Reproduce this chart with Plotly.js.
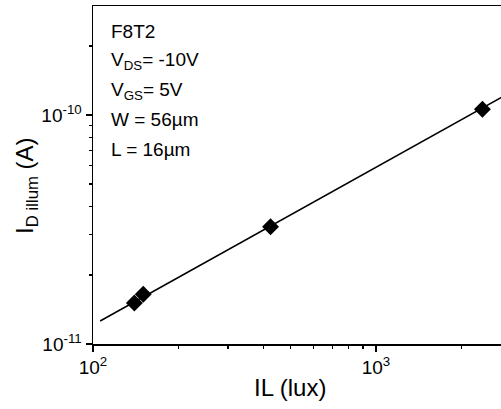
<!DOCTYPE html>
<html>
<head>
<meta charset="utf-8">
<script src="https://cdn.plot.ly/plotly-3.0.1.min.js"></script>
<style>html,body{margin:0;padding:0;background:#fff;}#chart{width:501px;height:409px;}</style>
</head>
<body>
<div id="chart"></div>
<script>
// Measured data: illumination (lux) vs illuminated drain current (A)
const illum = [140, 150.5, 424, 2377];
const current = [1.51e-11, 1.65e-11, 3.25e-11, 1.06e-10];
// Fit line endpoints
const fitX = [106, 2800];
const fitY = [1.26e-11, 1.20e-10];
// Tick labels
const xTickVals = [100, 1000];
const xTickText = ['10<sup>2</sup>', '10<sup>3</sup>'];
const xMinor = [200, 300, 400, 500, 600, 700, 800, 900, 2000];
const yTickVals = [1e-11, 1e-10];
const yTickText = ['10<sup>-11</sup>', '10<sup>-10</sup>'];
const yMinor = [2e-11, 3e-11, 4e-11, 5e-11, 6e-11, 7e-11, 8e-11, 9e-11, 2e-10, 3e-10];
const infoLines = ['F8T2', 'V<sub>DS</sub>= -10V', 'V<sub>GS</sub>= 5V', 'W = 56µm', 'L = 16µm'];
const xTitle = 'IL (lux)';
const yTitle = 'I<sub>D illum</sub> (A)';

const font = 'Liberation Sans, Arial, Helvetica, sans-serif';

const traces = [
  {x: fitX, y: fitY, mode: 'lines', line: {color: '#000', width: 1.5}, hoverinfo: 'skip'},
  {x: illum, y: current, mode: 'markers', marker: {symbol: 'diamond', size: 13, color: '#000'}}
];

const plotLeft = 93, plotW = 408;
const plotTop = 6, plotBottom = 344;
const py = v => (plotBottom - v) / (plotBottom - plotTop);
const px = v => (v - plotLeft) / plotW;
const annY = [31.5, 61, 91, 120, 149];
const annotations = infoLines.map((t, i) => ({
  text: t, xref: 'paper', yref: 'paper',
  x: px(109), y: py(annY[i]),
  xanchor: 'left', yanchor: 'middle', showarrow: false,
  font: {family: font, size: 19, color: '#000'}
}));
annotations.push({
  text: yTitle, xref: 'paper', yref: 'paper',
  x: px(26), y: py(186), textangle: -90,
  xanchor: 'center', yanchor: 'middle', showarrow: false,
  font: {family: font, size: 24, color: '#000'}
});
annotations.push({
  text: xTitle, xref: 'paper', yref: 'paper',
  x: px(290), y: py(387),
  xanchor: 'center', yanchor: 'middle', showarrow: false,
  font: {family: font, size: 24, color: '#000'}
});

const layout = {
  width: 501, height: 409,
  margin: {l: 93, r: 0, t: 6, b: 65},
  paper_bgcolor: '#fff', plot_bgcolor: '#fff',
  showlegend: false,
  font: {family: font, color: '#000'},
  xaxis: {
    type: 'log', range: [2, 3.4417],
    tickmode: 'array', tickvals: xTickVals, ticktext: xTickText,
    ticks: 'outside', ticklen: 6, tickwidth: 1.2, tickcolor: '#000',
    minor: {tickmode: 'array', tickvals: xMinor, ticks: 'outside', ticklen: 3, tickwidth: 1.2, tickcolor: '#000', showgrid: false},
    showline: true, linecolor: '#000', linewidth: 1.5, mirror: true,
    showgrid: false, zeroline: false,
    tickfont: {family: font, size: 19, color: '#000'}
  },
  yaxis: {
    type: 'log', range: [-11, -9.524],
    tickmode: 'array', tickvals: yTickVals, ticktext: yTickText,
    ticks: 'outside', ticklen: 6, tickwidth: 1.2, tickcolor: '#000',
    minor: {tickmode: 'array', tickvals: yMinor, ticks: 'outside', ticklen: 3, tickwidth: 1.2, tickcolor: '#000', showgrid: false},
    showline: true, linecolor: '#000', linewidth: 1.5, mirror: false,
    showgrid: false, zeroline: false,
    tickfont: {family: font, size: 19, color: '#000'}
  },
  annotations: annotations
};

Plotly.newPlot('chart', traces, layout, {displayModeBar: false, staticPlot: true});
</script>
</body>
</html>
